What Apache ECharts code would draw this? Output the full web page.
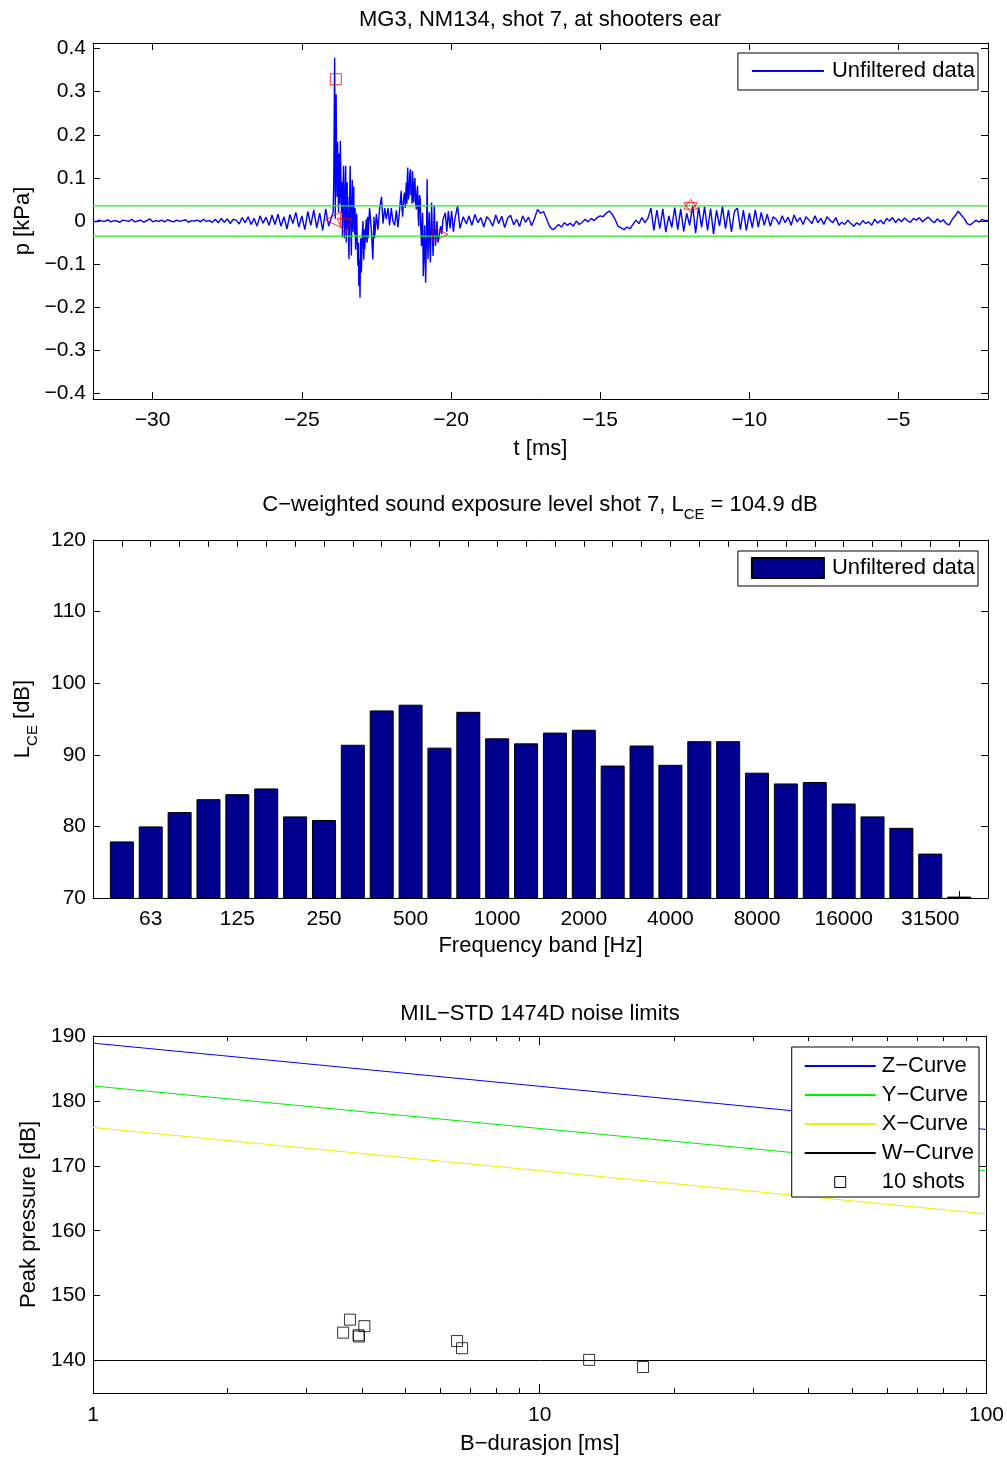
<!DOCTYPE html>
<html><head><meta charset="utf-8">
<script src="https://cdn.jsdelivr.net/npm/echarts@6/dist/echarts.min.js"></script>
<style>html,body{margin:0;padding:0;background:#fff}#c{width:1007px;height:1459px}</style>
</head><body><div id="c"></div>
<script>
// ---------------- DATA ----------------
// Chart 1: pressure waveform at shooter's ear (kPa vs ms)
const waveStepMs = 0.1;
const preShotStartMs = -32.0;
const preShotKPa = [
  0.001,-0.002,0.002,0.000,-0.001,0.003,-0.002,0.001,0.000,-0.003,
  0.002,0.001,-0.001,0.004,-0.002,0.000,0.002,-0.003,0.001,0.005,
  -0.002,0.001,-0.001,0.002,-0.002,0.003,0.000,-0.002,0.002,-0.001,
  0.001,0.003,-0.003,0.001,0.000,0.002,-0.002,0.004,-0.001,0.001,
  -0.003,
  0.004,-0.004,0.006,-0.003,0.005,-0.006,0.004,0.002,-0.007,0.008,
  -0.004,0.010,-0.008,0.006,-0.012,0.012,-0.005,0.009,-0.010,0.014,
  -0.008,0.016,-0.012,0.010,-0.018,0.015,-0.006,0.020,-0.014,0.012,
  -0.020,0.022,-0.010,0.025,-0.016,0.018,-0.022,0.028,-0.012,0.010
];
// [time ms, pressure kPa] around the muzzle blast (irregular sampling of the dense part)
const shockSamples = [
  [-23.95,0.020],[-23.93,0.093],[-23.90,0.379],[-23.88,0.005],[-23.85,0.294],[-23.84,0.190],
  [-23.82,0.056],[-23.80,0.183],[-23.77,0.020],[-23.75,0.156],[-23.73,0.040],[-23.71,0.186],
  [-23.69,0.100],[-23.67,0.020],[-23.655,0.090],[-23.64,-0.038],[-23.62,0.070],[-23.60,0.128],
  [-23.585,0.010],[-23.57,-0.040],[-23.55,0.060],[-23.53,0.128],[-23.52,0.020],[-23.51,-0.050],
  [-23.495,0.040],[-23.48,0.090],[-23.47,-0.020],[-23.46,0.056],[-23.44,-0.030],[-23.42,-0.089],
  [-23.40,0.030],[-23.38,0.128],[-23.36,0.000],[-23.34,-0.080],[-23.325,0.020],[-23.31,0.095],
  [-23.30,0.030],[-23.29,-0.025],[-23.275,0.050],[-23.26,0.080],[-23.245,-0.010],[-23.23,-0.030],
  [-23.215,0.030],[-23.20,-0.066],[-23.18,-0.020],[-23.16,0.017],[-23.14,-0.060],[-23.12,-0.104],
  [-23.105,-0.050],[-23.09,-0.151],[-23.07,-0.090],[-23.05,-0.178],[-23.04,-0.100],[-23.03,-0.040],
  [-23.015,-0.120],[-23.00,-0.110],[-22.975,-0.030],[-22.95,0.000],[-22.935,-0.060],[-22.92,-0.090],
  [-22.905,-0.020],[-22.89,-0.065],[-22.865,-0.020],[-22.84,0.004],[-22.825,-0.045],[-22.81,-0.050],
  [-22.795,0.010],[-22.78,-0.040],
  [-22.73,0.030],[-22.67,-0.020],[-22.62,-0.089],[-22.58,0.010],[-22.56,-0.040],[-22.50,0.016],
  [-22.45,-0.020],[-22.39,0.030],[-22.33,0.056],[-22.28,-0.006],[-22.22,0.030],[-22.17,0.004],
  [-22.11,0.030],[-22.06,-0.010],[-22.00,0.030],[-21.95,0.000],[-21.89,-0.010],[-21.83,0.025],
  [-21.78,-0.015],[-21.73,0.020],
  [-21.67,0.070],[-21.645,0.030],[-21.62,0.010],[-21.59,0.050],[-21.56,0.066],[-21.53,0.030],
  [-21.50,0.089],[-21.49,0.050],[-21.48,0.040],[-21.465,0.100],[-21.45,0.124],[-21.425,0.050],
  [-21.40,0.066],[-21.38,0.110],[-21.36,0.120],[-21.34,0.060],[-21.32,0.081],[-21.305,0.040],
  [-21.29,0.116],[-21.27,0.070],[-21.25,0.043],[-21.23,0.090],[-21.21,0.100],[-21.185,0.040],
  [-21.16,0.027],[-21.14,0.070],[-21.12,0.081],[-21.10,0.010],[-21.08,-0.012],[-21.055,0.060],
  [-21.03,0.050],[-21.01,-0.020],[-20.99,-0.058],[-20.97,-0.010],[-20.95,0.019],[-20.94,-0.060],
  [-20.93,-0.128],[-20.905,-0.070],[-20.88,-0.010],[-20.865,-0.090],[-20.85,-0.143],[-20.835,-0.080],
  [-20.82,-0.035],[-20.81,0.030],[-20.80,0.097],[-20.785,-0.020],[-20.77,-0.089],[-20.75,-0.030],
  [-20.73,0.020],[-20.71,-0.050],[-20.69,-0.096],[-20.67,-0.020],[-20.65,0.043],[-20.625,-0.030],
  [-20.60,-0.081],[-20.58,-0.020],[-20.56,0.035],[-20.54,-0.020],[-20.52,-0.058],[-20.495,-0.030],
  [-20.47,0.000],[-20.44,-0.050],[-20.41,-0.042],
  [-20.35,-0.012],[-20.31,-0.030],[-20.27,0.003],[-20.19,0.019],[-20.14,-0.025],[-20.09,0.023],
  [-20.03,-0.017],[-19.98,0.023],[-19.92,-0.025],[-19.87,0.005],[-19.78,0.035],[-19.70,-0.017],
  [-19.59,0.010],[-19.48,-0.007]
];
const tailStartMs = -19.4;
const tailKPa = [
  0.012,-0.010,0.015,-0.004,0.008,-0.014,0.010,0.002,-0.012,0.014,
  -0.006,0.011,-0.015,0.007,0.013,-0.009,0.004,-0.013,0.012,-0.003,
  0.009,-0.011,0.006,0.027,0.018,0.022,0.006,-0.012,-0.020,-0.016,
  -0.008,-0.014,-0.004,-0.010,-0.005,-0.012,0.000,-0.008,-0.003,0.004,
  -0.002,0.006,0.001,0.008,0.012,0.010,0.018,0.023,0.016,0.004,
  -0.012,-0.016,-0.020,-0.014,-0.018,-0.008,0.002,-0.006,0.008,-0.004,
  0.006,0.030,-0.022,0.025,-0.018,0.028,-0.026,0.012,-0.015,0.031,
  -0.020,0.028,-0.024,0.018,-0.010,0.035,-0.028,0.032,-0.015,0.033,
  -0.022,0.029,-0.030,0.025,-0.012,0.034,-0.018,0.026,-0.025,0.022,
  0.030,-0.020,0.025,-0.022,0.018,-0.016,0.026,-0.014,0.020,-0.010,
  0.016,-0.012,0.010,0.004,-0.008,0.012,-0.004,0.009,-0.010,0.014,
  -0.002,0.008,-0.008,0.010,0.002,-0.006,0.012,-0.004,0.006,-0.008,
  0.010,0.002,-0.004,0.008,-0.010,-0.003,-0.008,0.002,-0.006,-0.012,
  -0.004,-0.009,0.001,-0.006,-0.002,-0.010,0.004,-0.005,0.002,-0.007,
  0.006,0.000,0.008,-0.004,0.005,-0.002,0.007,0.001,-0.003,0.006,
  0.002,0.008,-0.002,0.004,0.009,0.001,-0.004,0.005,-0.002,0.003,
  -0.006,-0.009,0.004,0.012,0.023,0.014,0.006,-0.006,-0.009,-0.004,
  0.002,-0.003,0.004,0.001,0.002
];
const thresholdKPa = 0.035;
const timeRangeMs = [-32, -2];
const peakMarker = [[-23.86, 0.329]];
const leftTriMarker = [[-23.96, 0.003]];
const downTriMarker = [[-23.57, -0.012]];
const rightTriMarker = [[-20.35, -0.031]];
const starMarker = [[-11.97, 0.035]];
const timeTicks = [-30, -25, -20, -15, -10, -5];
const pressureTicks = [-0.4, -0.3, -0.2, -0.1, 0, 0.1, 0.2, 0.3, 0.4];

// Chart 2: C-weighted third-octave band levels
const freqBands = ['50','63','80','100','125','160','200','250','315','400','500','630','800','1000','1250',
  '1600','2000','2500','3150','4000','5000','6300','8000','10000','12500','16000','20000','25000','31500','40000'];
const bandLevelsDb = [77.9, 80.0, 82.0, 83.8, 84.5, 85.3, 81.4, 80.9, 91.4, 96.2, 97.0, 91.0, 96.0, 92.3, 91.6,
  93.1, 93.5, 88.5, 91.3, 88.6, 91.9, 91.9, 87.5, 86.0, 86.2, 83.2, 81.4, 79.8, 76.2, 70.2];
const bandLabelIdx = [2, 5, 8, 11, 14, 17, 20, 23, 26, 29];

// Chart 3: MIL-STD 1474D limit curves and shots
const zCurve = [[1, 188.9], [100, 175.6]];
const yCurve = [[1, 182.3], [100, 169.2]];
const xCurve = [[1, 175.9], [100, 162.6]];
const wCurve = [[1, 140.0], [100, 140.0]];
const shotDurationMs = [3.76, 3.63, 4.05, 3.93, 3.94, 6.53, 6.70, 12.90, 17.03];
const shotPeakDb     = [146.3, 144.3, 145.3, 143.9, 143.7, 143.0, 141.9, 140.1, 139.0];
const peakTicks = [140, 150, 160, 170, 180, 190];

// ---------------- BUILD ----------------
const FONT = '"Liberation Sans", Arial, Helvetica, sans-serif';
const TICKFS = 21, TEXTFS = 22;
const fmtMinus = v => (v < 0 ? '\u2212' + String(Math.round(-v * 100) / 100) : String(Math.round(v * 100) / 100));

const waveData = []
  .concat(preShotKPa.map((p, i) => [+(preShotStartMs + i * waveStepMs).toFixed(2), p]))
  .concat(shockSamples)
  .concat(tailKPa.map((p, i) => [+(tailStartMs + i * waveStepMs).toFixed(2), p]));

const lineAxis = { show: true, onZero: false, lineStyle: { color: '#000', width: 1 } };
const tick = (len, values) => Object.assign({ show: true, inside: true, length: len, lineStyle: { color: '#000' } },
  values ? { customValues: values } : {});
function frameAxis(extra) {
  return Object.assign({
    type: 'value', axisLine: lineAxis, splitLine: { show: false },
    axisLabel: { show: false }, axisTick: tick(7)
  }, extra);
}
const labelStyle = (margin, extra) => Object.assign({ show: true, color: '#000', fontSize: TICKFS, fontFamily: FONT, margin: margin }, extra || {});
const nameStyle = { color: '#000', fontSize: TEXTFS, fontFamily: FONT };
const subRich = {
  a: { fontSize: TEXTFS, fontFamily: FONT, color: '#000', fill: '#000', lineHeight: 26, verticalAlign: 'top' },
  s: { fontSize: 15, fontFamily: FONT, color: '#000', fill: '#000', lineHeight: 18, verticalAlign: 'top', padding: [13, 0, 0, 0] }
};

const minorLogTicks = [];
[1, 10].forEach(d => { for (let k = 2; k <= 9; k++) minorLogTicks.push(Math.log10(k * d)); });
const bandTickIdx = freqBands.map((f, i) => i + 1);

const xAxes = [
  // chart 1
  frameAxis({ gridIndex: 0, position: 'bottom', min: timeRangeMs[0], max: timeRangeMs[1],
    axisTick: tick(7, timeTicks),
    axisLabel: labelStyle(11, { customValues: timeTicks, formatter: fmtMinus }),
    name: 't [ms]', nameLocation: 'middle', nameGap: 39, nameTextStyle: nameStyle }),
  frameAxis({ gridIndex: 0, position: 'top', min: timeRangeMs[0], max: timeRangeMs[1], axisTick: tick(7, timeTicks) }),
  // chart 2
  frameAxis({ gridIndex: 1, position: 'bottom', min: 0, max: freqBands.length + 1,
    axisTick: tick(7, bandTickIdx),
    axisLabel: labelStyle(11, { customValues: bandLabelIdx, formatter: v => freqBands[Math.round(v) - 1] }),
    name: 'Frequency band [Hz]', nameLocation: 'middle', nameGap: 37, nameTextStyle: nameStyle }),
  frameAxis({ gridIndex: 1, position: 'top', min: 0, max: freqBands.length + 1, axisTick: tick(7, bandTickIdx) }),
  // chart 3
  { type: 'log', logBase: 10, gridIndex: 2, position: 'bottom', min: 1, max: 100,
    axisLine: lineAxis, splitLine: { show: false }, axisTick: tick(9),
    axisLabel: labelStyle(12, { formatter: v => String(v) }),
    name: 'B\u2212durasjon [ms]', nameLocation: 'middle', nameGap: 40, nameTextStyle: nameStyle },
  frameAxis({ gridIndex: 2, position: 'bottom', min: 0, max: 2, axisLine: { show: false, onZero: false }, axisTick: tick(5, minorLogTicks) }),
  { type: 'log', logBase: 10, gridIndex: 2, position: 'top', min: 1, max: 100,
    axisLine: lineAxis, splitLine: { show: false }, axisLabel: { show: false }, axisTick: tick(9) },
  frameAxis({ gridIndex: 2, position: 'top', min: 0, max: 2, axisLine: { show: false, onZero: false }, axisTick: tick(5, minorLogTicks) })
];

const yAxes = [
  frameAxis({ gridIndex: 0, position: 'left', min: -0.413, max: 0.413,
    axisTick: tick(7, pressureTicks),
    axisLabel: labelStyle(7, { customValues: pressureTicks, formatter: fmtMinus }),
    name: 'p [kPa]', nameLocation: 'middle', nameRotate: 90, nameGap: 56, nameTextStyle: nameStyle }),
  frameAxis({ gridIndex: 0, position: 'right', min: -0.413, max: 0.413, axisTick: tick(7, pressureTicks) }),
  frameAxis({ gridIndex: 1, position: 'left', min: 70, max: 120, interval: 10,
    axisLabel: labelStyle(7),
    name: '{a|L}{s|CE}{a| [dB]}', nameLocation: 'middle', nameRotate: 90, nameGap: 42,
    nameTextStyle: { color: '#000', fontFamily: FONT, fontSize: TEXTFS, rich: subRich } }),
  frameAxis({ gridIndex: 1, position: 'right', min: 70, max: 120, interval: 10 }),
  frameAxis({ gridIndex: 2, position: 'left', min: 135, max: 190,
    axisTick: tick(7, peakTicks),
    axisLabel: labelStyle(7, { customValues: peakTicks }),
    name: 'Peak pressure [dB]', nameLocation: 'middle', nameRotate: 90, nameGap: 51, nameTextStyle: nameStyle }),
  frameAxis({ gridIndex: 2, position: 'right', min: 135, max: 190, axisTick: tick(7, peakTicks) })
];

const emptyStyle = c => ({ color: 'rgba(0,0,0,0)', borderColor: c, borderWidth: 1 });
const hexagram = 'path://M0,-10L8.66,5L-8.66,5Z M0,10L8.66,-5L-8.66,-5Z';
const squarePath = 'path://M0,0L10,0L10,10L0,10Z';

const series = [
  { name: 'Unfiltered data', type: 'line', xAxisIndex: 0, yAxisIndex: 0, data: waveData,
    symbol: 'none', lineStyle: { color: '#0000ff', width: 1.4 }, itemStyle: { color: '#0000ff' }, z: 2 },
  { name: 'thrHi', type: 'line', xAxisIndex: 0, yAxisIndex: 0, data: [[timeRangeMs[0], thresholdKPa], [timeRangeMs[1], thresholdKPa]],
    symbol: 'none', lineStyle: { color: '#22ee22', width: 1.3 }, silent: true, z: 3 },
  { name: 'thrLo', type: 'line', xAxisIndex: 0, yAxisIndex: 0, data: [[timeRangeMs[0], -thresholdKPa], [timeRangeMs[1], -thresholdKPa]],
    symbol: 'none', lineStyle: { color: '#22ee22', width: 1.3 }, silent: true, z: 3 },
  { name: 'peak', type: 'scatter', xAxisIndex: 0, yAxisIndex: 0, data: peakMarker, symbol: 'rect', symbolSize: 11, itemStyle: emptyStyle('#ff0000'), z: 5 },
  { name: 'left', type: 'scatter', xAxisIndex: 0, yAxisIndex: 0, data: leftTriMarker, symbol: 'triangle', symbolRotate: 90, symbolSize: 15, itemStyle: emptyStyle('#ff0000'), z: 5 },
  { name: 'down', type: 'scatter', xAxisIndex: 0, yAxisIndex: 0, data: downTriMarker, symbol: 'triangle', symbolRotate: 180, symbolSize: 15, itemStyle: emptyStyle('#ff0000'), z: 5 },
  { name: 'right', type: 'scatter', xAxisIndex: 0, yAxisIndex: 0, data: rightTriMarker, symbol: 'triangle', symbolRotate: -90, symbolSize: 15, itemStyle: emptyStyle('#ff0000'), z: 5 },
  { name: 'star', type: 'scatter', xAxisIndex: 0, yAxisIndex: 0, data: starMarker, symbol: hexagram, symbolSize: 13, itemStyle: emptyStyle('#ff0000'), z: 5 },
  { name: 'Unfiltered data ', type: 'bar', xAxisIndex: 2, yAxisIndex: 2,
    data: bandLevelsDb.map((v, i) => [i + 1, v]), barWidth: 24,
    itemStyle: { color: '#00008f', borderColor: '#000', borderWidth: 1 }, z: 2 },
  { name: 'Z\u2212Curve', type: 'line', xAxisIndex: 4, yAxisIndex: 4, data: zCurve, symbol: 'none', lineStyle: { color: '#0000ff', width: 1 }, itemStyle: { color: '#0000ff' } },
  { name: 'Y\u2212Curve', type: 'line', xAxisIndex: 4, yAxisIndex: 4, data: yCurve, symbol: 'none', lineStyle: { color: '#00ee00', width: 1 }, itemStyle: { color: '#00ee00' } },
  { name: 'X\u2212Curve', type: 'line', xAxisIndex: 4, yAxisIndex: 4, data: xCurve, symbol: 'none', lineStyle: { color: '#eeee00', width: 1 }, itemStyle: { color: '#eeee00' } },
  { name: 'W\u2212Curve', type: 'line', xAxisIndex: 4, yAxisIndex: 4, data: wCurve, symbol: 'none', lineStyle: { color: '#000', width: 1 }, itemStyle: { color: '#000' } },
  { name: '10 shots', type: 'scatter', xAxisIndex: 4, yAxisIndex: 4,
    data: shotDurationMs.map((d, i) => [d, shotPeakDb[i]]), symbol: 'rect', symbolSize: 11,
    itemStyle: emptyStyle('#000'), z: 5 }
];

const legendBase = {
  backgroundColor: '#fff', borderColor: '#000', borderWidth: 1, selectedMode: false,
  orient: 'vertical', textStyle: { color: '#000', fontSize: TEXTFS, fontFamily: FONT, lineHeight: 22, padding: [0, 0, 0, 3] }
};
const legends = [
  Object.assign({}, legendBase, { data: ['Unfiltered data'], right: 29, top: 53, itemWidth: 72, itemHeight: 10,
    padding: [7, 3, 8, 13], itemStyle: { opacity: 0 } }),
  Object.assign({}, legendBase, { data: [{ name: 'Unfiltered data ', icon: 'rect' }], right: 29, top: 551, itemWidth: 72, itemHeight: 20,
    padding: [6, 3, 7, 13], formatter: n => n.trim() }),
  Object.assign({}, legendBase, {
    data: ['Z\u2212Curve', 'Y\u2212Curve', 'X\u2212Curve', 'W\u2212Curve',
      { name: '10 shots', icon: squarePath, itemStyle: { opacity: 1, color: 'rgba(0,0,0,0)', borderColor: '#000', borderWidth: 1 } }],
    right: 28, top: 1047, itemWidth: 71, itemHeight: 11, itemGap: 7, padding: [8, 5, 4, 12],
    itemStyle: { opacity: 0 },
    textStyle: { color: '#000', fontSize: TEXTFS, fontFamily: FONT, lineHeight: 22, padding: [0, 0, 0, 1] } })
];

const titleText = (y, text, rich) => ({
  type: 'text', x: 540, y: y, style: Object.assign({ text: text, fill: '#000', fontSize: TEXTFS, fontFamily: FONT,
    align: 'center', verticalAlign: 'top' }, rich ? { rich: rich } : {})
});

const option = {
  animation: false,
  backgroundColor: '#fff',
  grid: [
    { left: 93, top: 43, width: 895, height: 356 },
    { left: 93, top: 540, width: 895, height: 358 },
    { left: 93, top: 1036, width: 895, height: 357 }
  ],
  xAxis: xAxes,
  yAxis: yAxes,
  legend: legends,
  graphic: [
    titleText(9, 'MG3, NM134, shot 7, at shooters ear'),
    titleText(494, '{a|C\u2212weighted sound exposure level shot 7, L}{s|CE}{a| = 104.9 dB}', subRich),
    titleText(1003, 'MIL\u2212STD 1474D noise limits')
  ],
  series: series
};

const chart = echarts.init(document.getElementById('c'), null, { renderer: 'canvas', width: 1007, height: 1459 });
chart.setOption(option);
</script>
</body></html>
